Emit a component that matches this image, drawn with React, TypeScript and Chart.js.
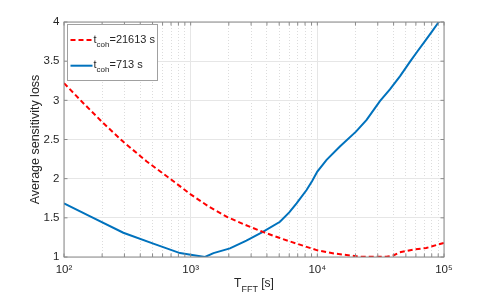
import React, { useEffect, useRef } from "react";
import { Chart, registerables } from "chart.js";

Chart.register(...registerables);

const FONT = "'Liberation Sans', Arial, Helvetica, sans-serif";
const TEXT = "#262626";

// ---- data ----
const xTickValues = [
  100, 200, 300, 400, 500, 600, 700, 800, 900,
  1000, 2000, 3000, 4000, 5000, 6000, 7000, 8000, 9000,
  10000, 20000, 30000, 40000, 50000, 60000, 70000, 80000, 90000,
  100000,
];
const xTickLabels: Record<number, string> = { 100: "10²", 1000: "10³", 10000: "10⁴", 100000: "10⁵" };
const yTickValues = [1, 1.5, 2, 2.5, 3, 3.5, 4];

const xTitleMain = "T";
const xTitleSub = "FFT";
const xTitleRest = " [s]";
const yTitle = "Average sensitivity loss";

const seriesLabels = ["t_coh=21613 s", "t_coh=713 s"];
const legendBase = ["t", "t"];
const legendSub = ["coh", "coh"];
const legendRest = ["=21613 s", "=713 s"];

// t_coh = 21613 s (red dashed)
const redT = [100, 141, 204, 294, 450, 687, 1000, 1400, 1950, 2700, 3715, 5000, 6310, 10000, 13500, 18070, 21700, 28200, 35200, 39800, 44700, 57100, 72400, 100000];
const redLoss = [3.22, 2.97, 2.71, 2.47, 2.22, 2.0, 1.8, 1.64, 1.51, 1.41, 1.32, 1.245, 1.19, 1.085, 1.045, 1.02, 1.004, 1.003, 1.004, 1.02, 1.06, 1.095, 1.115, 1.18];

// t_coh = 713 s (blue solid)
const blueT = [100, 158, 294, 507, 824, 1000, 1297, 1514, 2042, 2754, 3715, 5070, 6000, 6855, 8222, 9100, 10000, 11830, 15070, 20180, 24490, 31190, 37410, 45000, 54300, 62000, 71000, 80000, 90000, 100000];
const blueLoss = [1.685, 1.525, 1.31, 1.17, 1.05, 1.03, 1.0, 1.05, 1.11, 1.21, 1.32, 1.45, 1.57, 1.685, 1.855, 1.97, 2.09, 2.24, 2.41, 2.6, 2.75, 2.99, 3.14, 3.31, 3.5, 3.63, 3.76, 3.875, 3.99, 4.09];

const RED = "#ff0000";
const BLUE = "#0072bd";

const isPow10 = (v: number) => Math.abs(Math.log10(v) - Math.round(Math.log10(v))) < 1e-9;

const decorPlugin = {
  id: "decor",
  afterDatasetsDraw(chart: any) {
    const { ctx, chartArea: a } = chart;
    const xs = chart.scales.x;
    const ys = chart.scales.y;
    ctx.save();
    // axes box
    ctx.strokeStyle = "#8a8a8a";
    ctx.lineWidth = 1;
    ctx.strokeRect(a.left, a.top, a.right - a.left, a.bottom - a.top);
    // inward tick marks
    const tl = 3.5;
    ctx.beginPath();
    xTickValues.forEach((v) => {
      const px = xs.getPixelForValue(v);
      ctx.moveTo(px, a.bottom);
      ctx.lineTo(px, a.bottom - tl);
      ctx.moveTo(px, a.top);
      ctx.lineTo(px, a.top + tl);
    });
    yTickValues.forEach((v) => {
      const py = ys.getPixelForValue(v);
      ctx.moveTo(a.left, py);
      ctx.lineTo(a.left + tl, py);
      ctx.moveTo(a.right, py);
      ctx.lineTo(a.right - tl, py);
    });
    ctx.stroke();

    // legend
    const lx = a.left + 3.5;
    const ly = a.top + 2.5;
    ctx.fillStyle = "#ffffff";
    ctx.fillRect(lx, ly, 90, 56);
    ctx.strokeStyle = "#a0a0a0";
    ctx.strokeRect(lx, ly, 90, 56);
    const colors = [RED, BLUE];
    const dashes = [[5, 3], []];
    const rowY = [ly + 15.5, ly + 41.2];
    ctx.textBaseline = "alphabetic";
    ctx.textAlign = "left";
    for (let i = 0; i < 2; i++) {
      ctx.beginPath();
      ctx.strokeStyle = colors[i];
      ctx.lineWidth = 2;
      ctx.setLineDash(dashes[i]);
      ctx.moveTo(lx + 3, rowY[i]);
      ctx.lineTo(lx + 25, rowY[i]);
      ctx.stroke();
      ctx.setLineDash([]);
      ctx.fillStyle = TEXT;
      let tx = lx + 26;
      const base = rowY[i] + 2.5;
      ctx.font = `11px ${FONT}`;
      ctx.fillText(legendBase[i], tx, base);
      tx += ctx.measureText(legendBase[i]).width;
      ctx.font = `8px ${FONT}`;
      ctx.fillText(legendSub[i], tx, base + 4);
      tx += ctx.measureText(legendSub[i]).width;
      ctx.font = `11px ${FONT}`;
      ctx.fillText(legendRest[i], tx, base);
    }

    // x title with subscript
    ctx.fillStyle = TEXT;
    ctx.font = `12px ${FONT}`;
    const w1 = ctx.measureText(xTitleMain).width;
    const w3 = ctx.measureText(xTitleRest).width;
    ctx.font = `9px ${FONT}`;
    const w2 = ctx.measureText(xTitleSub).width;
    const total = w1 + w2 + w3;
    let sx = (a.left + a.right) / 2 - total / 2;
    const by = 286.5;
    ctx.font = `12px ${FONT}`;
    ctx.fillText(xTitleMain, sx, by);
    sx += w1;
    ctx.font = `9px ${FONT}`;
    ctx.fillText(xTitleSub, sx, by + 5);
    sx += w2;
    ctx.font = `12px ${FONT}`;
    ctx.fillText(xTitleRest, sx, by);
    ctx.restore();
  },
};

export default function App() {
  const ref = useRef<HTMLCanvasElement | null>(null);

  useEffect(() => {
    if (!ref.current) return;
    const chart = new Chart(ref.current, {
      type: "line",
      data: {
        datasets: [
          {
            label: seriesLabels[0],
            data: redT.map((t, i) => ({ x: t, y: redLoss[i] })),
            borderColor: RED,
            borderWidth: 2,
            borderDash: [5, 3],
            pointRadius: 0,
            tension: 0,
            fill: false,
          },
          {
            label: seriesLabels[1],
            data: blueT.map((t, i) => ({ x: t, y: blueLoss[i] })),
            borderColor: BLUE,
            borderWidth: 2,
            pointRadius: 0,
            tension: 0,
            fill: false,
          },
        ],
      },
      options: {
        animation: false,
        responsive: false,
        devicePixelRatio: 1,
        layout: { padding: { left: 0, top: 22, right: 47, bottom: 0 } },
        plugins: {
          legend: { display: false },
          tooltip: { enabled: false },
        },
        scales: {
          x: {
            type: "logarithmic",
            min: 100,
            max: 100000,
            afterBuildTicks: (scale: any) => {
              scale.ticks = xTickValues.map((v) => ({ value: v, major: isPow10(v) }));
            },
            afterFit: (scale: any) => {
              scale.height = 38;
            },
            grid: {
              drawTicks: false,
              color: (c: any) => (c.tick && isPow10(c.tick.value) ? "#e6e6e6" : "#dcdcdc"),
              lineWidth: 1,
            },
            border: {
              display: false,
              dash: (c: any) => (c.tick && !isPow10(c.tick.value) ? [1, 2] : []),
            },
            ticks: {
              autoSkip: false,
              maxRotation: 0,
              padding: 6,
              color: TEXT,
              font: { family: FONT, size: 11.5 },
              callback: (v: any) => xTickLabels[Number(v)] ?? "",
            },
          },
          y: {
            type: "linear",
            min: 1,
            max: 4,
            afterBuildTicks: (scale: any) => {
              scale.ticks = yTickValues.map((v) => ({ value: v }));
            },
            afterFit: (scale: any) => {
              scale.width = 64;
            },
            grid: { drawTicks: false, color: "#e6e6e6", lineWidth: 1 },
            border: { display: false },
            ticks: {
              padding: 4.5,
              color: TEXT,
              font: { family: FONT, size: 11.5 },
              callback: (v: any) => String(v),
            },
            title: {
              display: true,
              text: yTitle,
              color: TEXT,
              font: { family: FONT, size: 12.5 },
              padding: { top: 28, bottom: 0 },
            },
          },
        },
      },
      plugins: [decorPlugin],
    } as any);
    return () => chart.destroy();
  }, []);

  return (
    <div style={{ position: "absolute", left: 0, top: 0, width: 491, height: 295, background: "#fff" }}>
      <canvas ref={ref} width={491} height={295} />
    </div>
  );
}
